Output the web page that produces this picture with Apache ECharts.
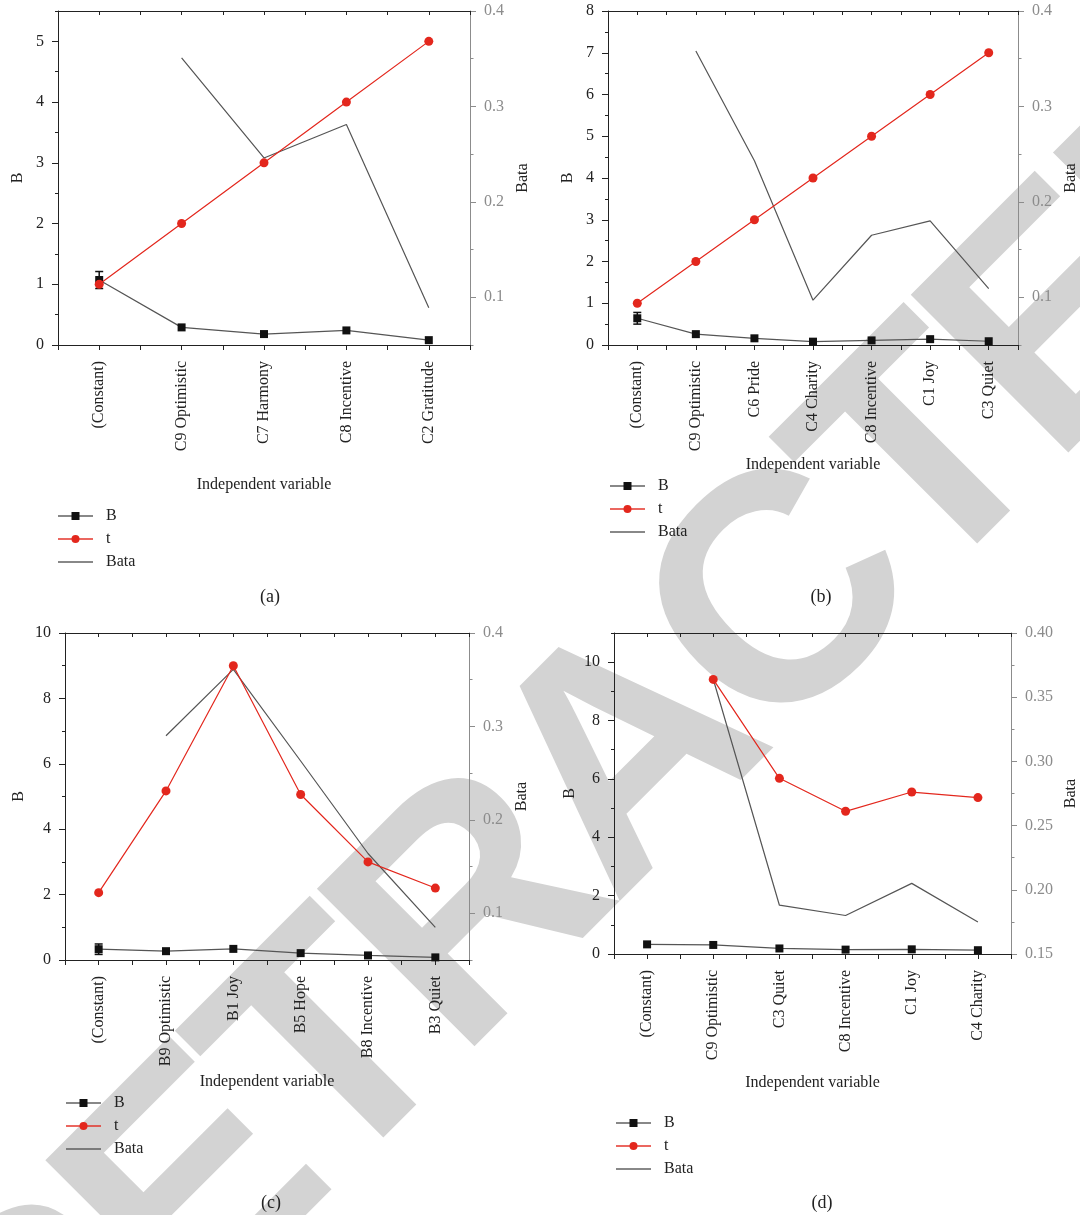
<!DOCTYPE html>
<html>
<head>
<meta charset="utf-8">
<script src="https://cdn.jsdelivr.net/npm/echarts@6/dist/echarts.min.js"></script>
<style>
  html, body { margin: 0; padding: 0; background: #fff; }
  #chart { width: 1080px; height: 1215px; }
</style>
</head>
<body>
<div id="chart"></div>
<script>
// ---- (a) ----
const catsA = ['(Constant)', 'C9 Optimistic', 'C7 Harmony', 'C8 Incentive', 'C2 Gratitude'];
const bA = [1.07, 0.29, 0.18, 0.24, 0.08];
const errA = [0.14, null, null, null, null];
const tA = [1, 2, 3, 4, 5];
const bataA = [null, 0.351, 0.246, 0.281, 0.089];
const leftTicksA = [0, 1, 2, 3, 4, 5];
const leftMinorA = [0.5, 1.5, 2.5, 3.5, 4.5, 5.5];

// ---- (b) ----
const catsB = ['(Constant)', 'C9 Optimistic', 'C6 Pride', 'C4 Charity', 'C8 Incentive', 'C1 Joy', 'C3 Quiet'];
const bB = [0.64, 0.26, 0.16, 0.08, 0.11, 0.14, 0.09];
const errB = [0.14, null, null, null, null, null, null];
const tB = [1, 2, 3, 4, 5, 6, 7];
const bataB = [null, 0.358, 0.243, 0.097, 0.165, 0.180, 0.109];
const leftTicksB = [0, 1, 2, 3, 4, 5, 6, 7, 8];
const leftMinorB = [0.5, 1.5, 2.5, 3.5, 4.5, 5.5, 6.5, 7.5];

// ---- (c) ----
const catsC = ['(Constant)', 'B9 Optimistic', 'B1 Joy', 'B5 Hope', 'B8 Incentive', 'B3 Quiet'];
const bC = [0.33, 0.27, 0.34, 0.21, 0.14, 0.08];
const errC = [0.16, null, null, null, null, null];
const tC = [2.06, 5.17, 9.0, 5.06, 3.0, 2.2];
const bataC = [null, 0.290, 0.361, 0.263, 0.164, 0.085];
const leftTicksC = [0, 2, 4, 6, 8, 10];
const leftMinorC = [1, 3, 5, 7, 9];

// ---- (d) ----
const catsD = ['(Constant)', 'C9 Optimistic', 'C3 Quiet', 'C8 Incentive', 'C1 Joy', 'C4 Charity'];
const bD = [0.33, 0.31, 0.19, 0.15, 0.16, 0.13];
const errD = [null, null, null, null, null, null];
const tD = [null, 9.41, 6.02, 4.89, 5.55, 5.36];
const bataD = [null, 0.364, 0.188, 0.180, 0.205, 0.175];
const leftTicksD = [0, 2, 4, 6, 8, 10];
const leftMinorD = [1, 3, 5, 7, 9, 11];

// right-hand (Bata) scales
const bataTicks = [0.1, 0.2, 0.3, 0.4];
const bataMinor = [0.05, 0.15, 0.25, 0.35];
const bataTicksD = [0.15, 0.2, 0.25, 0.3, 0.35, 0.4];
const bataMinorD = [0.175, 0.225, 0.275, 0.325, 0.375];

const captions = ['(a)', '(b)', '(c)', '(d)'];
const WATERMARK = 'RETRACTED';

const FONT = '"Liberation Serif", "DejaVu Serif", serif';
const FS = 16;
const INK = '#222222';
const GREY_AXIS = '#8c8c8c';
const LINE_GREY = '#555555';
const RED = '#e3271d';

const grids = [], xAxes = [], yAxes = [], series = [], legends = [];

function labelStyle(color) {
  return { fontFamily: FONT, fontSize: FS, color: color };
}

function addPanel(p) {
  const gi = grids.length;
  grids.push({ left: p.box[0], top: p.box[1], width: p.box[2], height: p.box[3], containLabel: false });

  // bottom axis: labels + ticks at category centres
  const xMain = xAxes.length;
  xAxes.push({
    gridIndex: gi, type: 'category', data: p.cats, position: 'bottom', boundaryGap: true,
    axisLine: { show: true, onZero: false, lineStyle: { color: INK, width: 1 } },
    axisTick: { show: true, alignWithLabel: true, interval: 0, length: 5, lineStyle: { color: INK } },
    axisLabel: Object.assign({ interval: 0, rotate: 90, margin: 16 }, labelStyle(INK)),
    splitLine: { show: false },
    name: 'Independent variable', nameLocation: 'middle', nameGap: p.xNameGap,
    nameTextStyle: labelStyle(INK)
  });
  // bottom ticks between categories
  xAxes.push({
    gridIndex: gi, type: 'category', data: p.cats, position: 'bottom', boundaryGap: true,
    axisLine: { show: false, onZero: false },
    axisTick: { show: true, interval: 0, length: 5, lineStyle: { color: INK } },
    axisLabel: { show: false }, splitLine: { show: false }
  });
  // top frame with inward ticks
  xAxes.push({
    gridIndex: gi, type: 'category', data: p.cats, position: 'top', boundaryGap: true,
    axisLine: { show: true, onZero: false, lineStyle: { color: INK, width: 1 } },
    axisTick: { show: true, inside: true, alignWithLabel: true, interval: 0, length: 4, lineStyle: { color: INK } },
    axisLabel: { show: false }, splitLine: { show: false }
  });
  xAxes.push({
    gridIndex: gi, type: 'category', data: p.cats, position: 'top', boundaryGap: true,
    axisLine: { show: false, onZero: false },
    axisTick: { show: true, inside: true, interval: 0, length: 4, lineStyle: { color: INK } },
    axisLabel: { show: false }, splitLine: { show: false }
  });

  // left axis (B, t)
  const yLeft = yAxes.length;
  yAxes.push({
    gridIndex: gi, type: 'value', position: 'left', min: 0, max: p.leftMax,
    axisLine: { show: true, onZero: false, lineStyle: { color: INK, width: 1 } },
    axisTick: { show: true, length: 6, customValues: p.leftTicks, lineStyle: { color: INK } },
    axisLabel: Object.assign({ show: true, margin: 14, customValues: p.leftTicks }, labelStyle(INK)),
    splitLine: { show: false },
    name: 'B', nameLocation: 'middle', nameGap: p.leftNameGap, nameTextStyle: labelStyle(INK)
  });
  yAxes.push({
    gridIndex: gi, type: 'value', position: 'left', min: 0, max: p.leftMax,
    axisLine: { show: false },
    axisTick: { show: true, length: 3, customValues: p.leftMinor, lineStyle: { color: INK } },
    axisLabel: { show: false }, splitLine: { show: false }
  });
  // right axis (Bata)
  const yRight = yAxes.length;
  yAxes.push({
    gridIndex: gi, type: 'value', position: 'right', min: p.rightMin, max: 0.4,
    axisLine: { show: true, onZero: false, lineStyle: { color: GREY_AXIS, width: 1 } },
    axisTick: { show: true, length: 6, customValues: p.rightTicks, lineStyle: { color: GREY_AXIS } },
    axisLabel: Object.assign({ show: true, margin: 14, customValues: p.rightTicks,
      formatter: (v) => v.toFixed(p.rightDigits) }, labelStyle(GREY_AXIS)),
    splitLine: { show: false },
    name: 'Bata', nameLocation: 'middle', nameGap: p.rightNameGap, nameTextStyle: labelStyle(INK)
  });
  yAxes.push({
    gridIndex: gi, type: 'value', position: 'right', min: p.rightMin, max: 0.4,
    axisLine: { show: false },
    axisTick: { show: true, length: 3.5, customValues: p.rightMinor, lineStyle: { color: GREY_AXIS } },
    axisLabel: { show: false }, splitLine: { show: false }
  });

  series.push({
    name: 'B', type: 'line', xAxisIndex: xMain, yAxisIndex: yLeft, data: p.b,
    symbol: 'rect', symbolSize: 8, z: 4,
    itemStyle: { color: '#111111' }, lineStyle: { color: LINE_GREY, width: 1.2 }
  });
  series.push({
    name: 't', type: 'line', xAxisIndex: xMain, yAxisIndex: yLeft, data: p.t,
    symbol: 'circle', symbolSize: 9, z: 5, connectNulls: false,
    itemStyle: { color: RED }, lineStyle: { color: RED, width: 1.2 }
  });
  series.push({
    name: 'Bata', type: 'line', xAxisIndex: xMain, yAxisIndex: yRight, data: p.bata,
    symbol: 'none', z: 3, connectNulls: false,
    itemStyle: { color: LINE_GREY }, lineStyle: { color: LINE_GREY, width: 1.2 }
  });
  // error bar on B
  const errData = [];
  p.b.forEach((v, i) => { if (p.err[i] != null) errData.push([i, v, p.err[i]]); });
  series.push({
    name: 'B error', type: 'custom', xAxisIndex: xMain, yAxisIndex: yLeft, z: 4,
    data: errData,
    renderItem: (params, api) => {
      const x = api.value(0), v = api.value(1), e = api.value(2);
      const hi = api.coord([x, v + e]);
      const lo = api.coord([x, v - e]);
      const w = 4;
      const st = { stroke: '#111111', lineWidth: 1.5 };
      return {
        type: 'group',
        children: [
          { type: 'line', shape: { x1: hi[0], y1: hi[1], x2: lo[0], y2: lo[1] }, style: st },
          { type: 'line', shape: { x1: hi[0] - w, y1: hi[1], x2: hi[0] + w, y2: hi[1] }, style: st },
          { type: 'line', shape: { x1: lo[0] - w, y1: lo[1], x2: lo[0] + w, y2: lo[1] }, style: st }
        ]
      };
    }
  });

  legends.push({
    data: ['B', 't', { name: 'Bata', itemStyle: { opacity: 0 } }],
    orient: 'vertical', left: p.legend[0], top: p.legend[1],
    itemWidth: 35, itemHeight: 10, itemGap: 7, selectedMode: false,
    lineStyle: { width: 2, opacity: 0.7 },
    textStyle: Object.assign({ padding: [0, 0, 0, 8], lineHeight: 14 }, labelStyle(INK))
  });
}

addPanel({ box: [58, 11, 412, 334], cats: catsA, b: bA, err: errA, t: tA, bata: bataA,
  leftMax: 5.5, leftTicks: leftTicksA, leftMinor: leftMinorA,
  rightMin: 0.05, rightTicks: bataTicks, rightMinor: bataMinor, rightDigits: 1,
  xNameGap: 132, leftNameGap: 32, rightNameGap: 45, legend: [52, 503] });
addPanel({ box: [608, 11, 412, 334], cats: catsB, b: bB, err: errB, t: tB, bata: bataB,
  leftMax: 8, leftTicks: leftTicksB, leftMinor: leftMinorB,
  rightMin: 0.05, rightTicks: bataTicks, rightMinor: bataMinor, rightDigits: 1,
  xNameGap: 112, leftNameGap: 32, rightNameGap: 45, legend: [604, 473] });
addPanel({ box: [65, 633, 404, 327], cats: catsC, b: bC, err: errC, t: tC, bata: bataC,
  leftMax: 10, leftTicks: leftTicksC, leftMinor: leftMinorC,
  rightMin: 0.05, rightTicks: bataTicks, rightMinor: bataMinor, rightDigits: 1,
  xNameGap: 114, leftNameGap: 38, rightNameGap: 45, legend: [60, 1090] });
addPanel({ box: [614, 633, 397, 321], cats: catsD, b: bD, err: errD, t: tD, bata: bataD,
  leftMax: 11, leftTicks: leftTicksD, leftMinor: leftMinorD,
  rightMin: 0.15, rightTicks: bataTicksD, rightMinor: bataMinorD, rightDigits: 2,
  xNameGap: 121, leftNameGap: 36, rightNameGap: 52, legend: [610, 1110] });

// Diagonal stamp: letters laid out one by one along a 45° line so the
// spacing can be tightened a little.
function stampLetters() {
  const size = 324, spacing = -15;
  const font = 'bold ' + size + 'px "Liberation Sans", Arial, sans-serif';
  const ctx = document.createElement('canvas').getContext('2d');
  ctx.font = font;
  const chars = WATERMARK.split('');
  const adv = chars.map((ch) => ctx.measureText(ch).width);
  const total = adv.reduce((a, b) => a + b, 0) + spacing * (chars.length - 1);
  const k = Math.SQRT1_2;
  const along0 = -90, across = 986;   // centre of the word, in the rotated frame
  let s = along0 - total / 2;
  return chars.map((ch, i) => {
    const sc = s + adv[i] / 2;
    s += adv[i] + spacing;
    return {
      type: 'text', x: k * (sc + across), y: k * (across - sc), rotation: Math.PI / 4,
      z: -10, silent: true,
      style: { text: ch, fill: '#d3d3d3', font: font,
        textAlign: 'center', textVerticalAlign: 'middle', align: 'center', verticalAlign: 'middle' }
    };
  });
}

const captionPos = [[270, 597], [821, 597], [271, 1203], [822, 1203]];
const graphics = stampLetters();
captions.forEach((c, i) => {
  graphics.push({
    type: 'text', x: captionPos[i][0], y: captionPos[i][1], z: 10, silent: true,
    style: { text: c, fill: INK, font: '18px ' + FONT,
      textAlign: 'center', textVerticalAlign: 'middle', align: 'center', verticalAlign: 'middle' }
  });
});

const chart = echarts.init(document.getElementById('chart'), null, { renderer: 'canvas' });
chart.setOption({
  backgroundColor: '#ffffff',
  animation: false,
  grid: grids,
  xAxis: xAxes,
  yAxis: yAxes,
  legend: legends,
  series: series,
  graphic: graphics
});
</script>
</body>
</html>
